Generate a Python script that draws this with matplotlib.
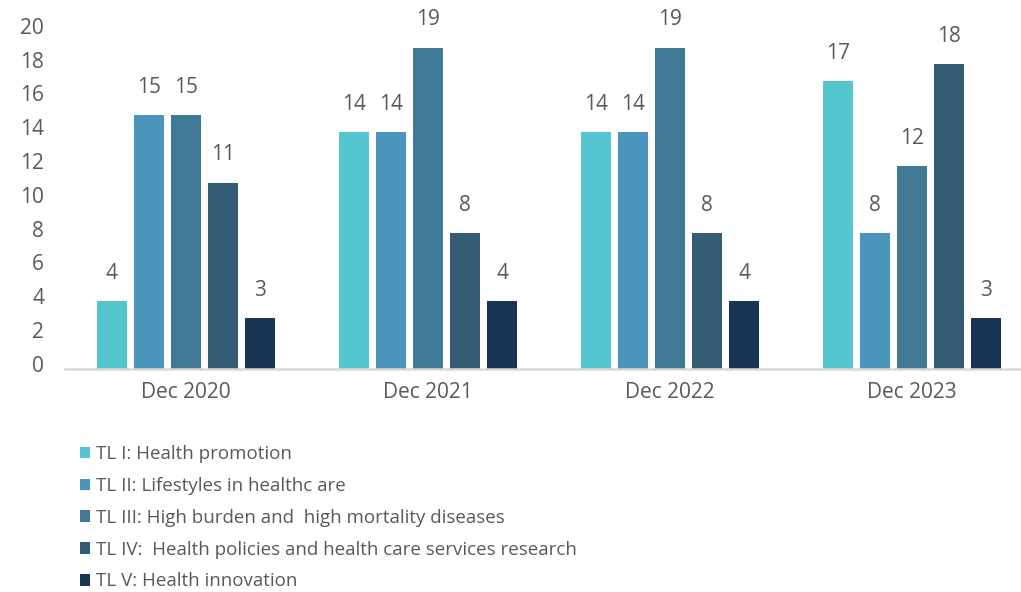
import matplotlib.pyplot as plt
import matplotlib.transforms as mtransforms
import numpy as np

### data
periods = ["Dec 2020", "Dec 2021", "Dec 2022", "Dec 2023"]
series_names = [
    "TL I: Health promotion",
    "TL II: Lifestyles in healthc are",
    "TL III: High burden and  high mortality diseases",
    "TL IV:  Health policies and health care services research",
    "TL V: Health innovation",
]
tl1 = [4, 14, 14, 17]
tl2 = [15, 14, 14, 8]
tl3 = [15, 19, 19, 12]
tl4 = [11, 8, 8, 18]
tl5 = [3, 4, 4, 3]
colors = ["#55C6CF", "#4B95BC", "#3F7995", "#345C74", "#1A3456"]

plt.rcParams['font.family'] = ['Open Sans', 'DejaVu Sans']
text_col = "#595959"

fig = plt.figure(figsize=(10.21, 5.92), dpi=100)
ax = fig.add_axes([65 / 1021, 1 - 368.6 / 592, 1 - 65 / 1021, (368.6 - 30.6) / 592])

x = np.arange(len(periods))
width = 0.124
step = 0.153
all_series = [tl1, tl2, tl3, tl4, tl5]
for i, (vals, name, c) in enumerate(zip(all_series, series_names, colors)):
    xs = x + (i - 2) * step
    bars = ax.bar(xs, vals, width=width, color=c, label=name)
    for xb, v in zip(xs, vals):
        ax.annotate(str(v), (xb, v), xytext=(0, 20), textcoords="offset points",
                    ha="center", va="center", fontsize=15, color=text_col,
                    annotation_clip=False)

ax.set_xlim(-0.5, (1021 - 186) / 242)
ax.set_ylim(0, 20)
ax.set_yticks(range(0, 21, 2))
ax.set_xticks(x)
ax.set_xticklabels(periods)
ax.tick_params(axis="y", length=0, pad=15, labelsize=15, labelcolor=text_col)
ax.tick_params(axis="x", length=0, pad=10, labelsize=15, labelcolor=text_col)
# y labels sit a few pixels above their tick in the original
shift = mtransforms.ScaledTranslation(0, 3.5 / 72, fig.dpi_scale_trans)
for lab in ax.get_yticklabels():
    lab.set_transform(lab.get_transform() + shift)
for s in ["top", "right", "left"]:
    ax.spines[s].set_visible(False)
ax.spines["bottom"].set_color("#d9d9d9")
ax.spines["bottom"].set_linewidth(1.8)

leg = fig.legend(loc="upper left", bbox_to_anchor=(80 / 1021, 1 - 445 / 592),
                 frameon=False, fontsize=13.5, labelcolor=text_col,
                 handlelength=0.55, handleheight=0.55, handletextpad=0.3,
                 labelspacing=0.74, borderpad=0, borderaxespad=0)

plt.savefig("out.png", dpi=100)
plt.close()
